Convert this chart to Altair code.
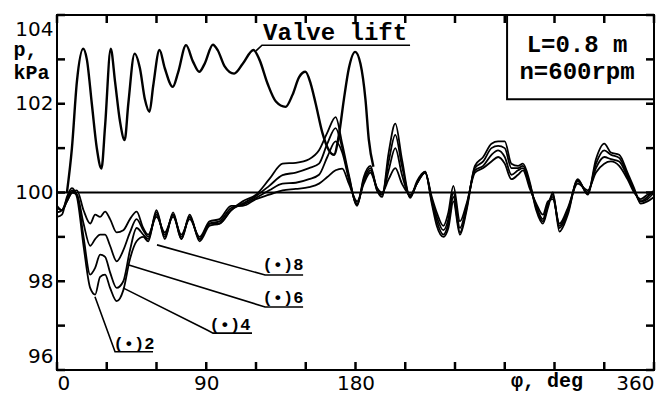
import altair as alt
import pandas as pd

# ---------------- data ----------------
PHI = [0, 3, 6, 9, 12, 16, 20, 23, 26, 29, 32, 36, 40, 44, 48, 52, 55, 60, 65, 70,
       75, 80, 86, 92, 98, 105, 112, 120, 128, 136, 144, 152, 158, 163, 168, 172, 176,
       181, 185, 189, 193, 196, 200, 204, 208, 213, 217, 222, 226, 229, 233, 236, 239,
       243, 247, 252, 257, 262, 266, 270, 274, 278, 281, 285, 289, 293, 296, 299, 303,
       308, 314, 320, 325, 330, 334, 339, 344, 348, 352, 356, 360]

P8 = [99.70, 99.60, 99.80, 100.00, 100.05,
      99.60, 99.30, 99.50, 99.45, 99.57,
      99.40, 99.10, 99.15, 99.40, 99.57,
      99.20, 99.05, 99.45, 99.10, 99.45,
      99.05, 99.40, 99.00, 99.35, 99.40,
      99.70, 99.70, 99.85, 99.95, 100.05,
      100.08, 100.12, 100.20, 100.35, 100.50,
      100.54, 100.20, 99.80, 100.20, 100.45,
      100.10, 100.00, 100.30, 100.55, 100.20,
      99.95, 100.20, 100.45, 99.90, 99.55,
      99.25, 99.55, 100.15, 99.35, 99.75,
      100.45, 100.55, 100.70, 100.80, 100.65,
      100.30, 100.40, 100.50, 100.10, 99.75,
      99.50, 99.80, 99.85, 99.30, 99.65,
      100.20, 100.05, 100.45, 100.65, 100.70,
      100.60, 100.30, 100.00, 99.85, 99.95,
      100.00]

P6 = [99.65, 99.60, 99.80, 100.00, 99.95,
      99.30, 98.80, 98.95, 99.05, 99.05,
      98.80, 98.45, 98.70, 99.10, 99.40,
      99.15, 99.00, 99.50, 99.05, 99.50,
      99.00, 99.45, 98.95, 99.30, 99.35,
      99.65, 99.72, 99.88, 100.05, 100.20,
      100.22, 100.30, 100.40, 100.80, 101.15,
      100.90, 100.30, 99.75, 100.25, 100.50,
      100.10, 99.95, 100.50, 101.00, 100.40,
      99.92, 100.20, 100.45, 99.85, 99.45,
      99.15, 99.40, 100.00, 99.20, 99.70,
      100.50, 100.60, 100.85, 100.95, 100.80,
      100.40, 100.50, 100.55, 100.15, 99.70,
      99.40, 99.75, 99.90, 99.25, 99.60,
      100.25, 100.00, 100.55, 100.80, 100.75,
      100.70, 100.35, 100.05, 99.80, 99.90,
      100.05]

P4 = [99.55, 99.60, 99.85, 100.05, 99.95,
      99.00, 98.15, 98.30, 98.60, 98.55,
      98.20, 97.85, 98.00, 98.70, 99.20,
      99.05, 98.95, 99.55, 99.00, 99.50,
      98.95, 99.45, 98.95, 99.30, 99.30,
      99.60, 99.75, 99.92, 100.15, 100.39,
      100.45, 100.55, 100.65, 101.10, 101.45,
      101.00, 100.35, 99.72, 100.30, 100.55,
      100.05, 99.95, 100.70, 101.30, 100.60,
      99.90, 100.20, 100.47, 99.80, 99.35,
      99.05, 99.30, 99.90, 99.10, 99.65,
      100.55, 100.70, 101.00, 101.05, 101.00,
      100.55, 100.55, 100.60, 100.20, 99.65,
      99.35, 99.70, 99.95, 99.20, 99.55,
      100.28, 99.98, 100.65, 100.95, 100.85,
      100.78, 100.40, 100.05, 99.80, 99.85,
      100.00]

P2 = [99.45, 99.50, 99.90, 100.10, 99.90,
      98.80, 97.85, 97.70, 98.10, 98.15,
      97.85, 97.55, 97.80, 98.50, 98.90,
      99.00, 98.90, 99.60, 98.95, 99.55,
      98.95, 99.50, 98.90, 99.25, 99.30,
      99.60, 99.80, 99.95, 100.30, 100.65,
      100.67, 100.75, 100.95, 101.35, 101.70,
      101.10, 100.40, 99.70, 100.35, 100.60,
      100.05, 99.90, 100.90, 101.55, 100.75,
      99.88, 100.25, 100.47, 99.75, 99.25,
      99.00, 99.20, 99.80, 99.05, 99.60,
      100.60, 100.80, 101.10, 101.15, 101.15,
      100.65, 100.60, 100.65, 100.25, 99.60,
      99.30, 99.65, 100.00, 99.12, 99.50,
      100.30, 99.95, 100.75, 101.10, 100.90,
      100.85, 100.45, 100.10, 99.75, 99.80,
      99.90]

VALVE_PHI = [6, 9, 12, 15.8, 18, 21, 24, 26.8, 29, 32.4, 35, 38, 40.8, 43, 46.8, 50, 53,
             55.8, 58, 61.8, 65, 69.8, 73, 77.8, 82, 85.8, 89, 94, 97, 101, 106.8, 112,
             118.5, 122, 127, 132, 137.8, 142, 146, 149.8, 153, 156, 160, 164, 167, 170,
             173, 176, 179.8, 183, 186, 188, 190.8]
VALVE_P = [100.0, 101.0, 102.5, 103.24, 103.0, 102.0, 101.0, 100.54, 101.5, 103.24,
           102.5, 101.6, 101.18, 102.0, 103.13, 102.8, 102.1, 101.82, 102.4, 103.21,
           102.8, 102.38, 102.7, 103.32, 102.95, 102.72, 102.9, 103.33, 103.2, 102.85,
           102.68, 102.9, 103.21, 103.0, 102.45, 102.05, 101.93, 102.2, 102.6, 102.72,
           102.45, 102.0, 101.35, 100.95, 100.85, 101.3, 102.1, 102.8, 103.17, 102.9,
           102.1, 101.2, 100.58]

CURVE_NAMES = ["8", "6", "4", "2"]

X_TICKS = list(range(0, 361, 30))
Y_TICKS = [96, 97, 98, 99, 100, 101, 102, 103, 104]
X_LABELS = [0, 90, 180, 360]
Y_LABELS = [96, 98, 100, 102, 104]

# label texts and their leader lines (data coordinates)
LABEL_TEXT = ["(•)8", "(•)6", "(•)4", "(•)2"]
LABEL_PHI = [136.3, 136.3, 104.3, 46.4]
LABEL_P = [98.37, 97.62, 97.01, 96.59]
LEADER_ID = ["8", "8", "8", "6", "6", "6", "4", "4", "4", "4", "2", "2", "2", "v", "v", "v"]
LEADER_PHI = [60.3, 125.5, 148.4, 42.8, 125.5, 148.4, 39.8, 90.5, 94.1, 117.6,
              22.9, 35.0, 57.9, 120.0, 123.6, 212.9]
LEADER_P = [98.82, 98.14, 98.14, 98.37, 97.42, 97.42, 97.85, 96.90, 96.83, 96.83,
            97.65, 96.41, 96.41, 103.19, 103.32, 103.32]

VALVE_TEXT = "Valve lift"
BOX_LINES = ["L=0.8 m", "n=600rpm"]
XLABEL_TEXT = "φ, deg"

# ---------------- chart ----------------
W, H = 597, 355
X_MIN, X_MAX, Y_MIN, Y_MAX = 0, 360, 96, 104
TICK_PX = 8
TICK_DX = TICK_PX * (X_MAX - X_MIN) / W
TICK_DY = TICK_PX * (Y_MAX - Y_MIN) / H
MONO = "Liberation Mono"
SANS = "DejaVu Sans"

xs = alt.Scale(domain=[X_MIN, X_MAX], nice=False, zero=False)
ys = alt.Scale(domain=[Y_MIN, Y_MAX], nice=False, zero=False)

X = alt.X("phi:Q", scale=xs, axis=alt.Axis(
    values=X_LABELS, ticks=False, domain=False, grid=False, labelFlush=True,
    labelFontSize=20, labelFont=SANS, labelColor="black", labelPadding=3, title=None))
Y = alt.Y("p:Q", scale=ys, axis=alt.Axis(
    values=Y_LABELS, ticks=False, domain=False, grid=False, labelFlush=True,
    labelFlushOffset=-4, labelFontSize=20, labelFont=SANS, labelColor="black",
    labelPadding=4, title=["p,", "kPa"], titleAngle=0, titleAlign="left",
    titleBaseline="alphabetic", titleX=-44, titleY=40, titleFont=MONO,
    titleFontSize=20, titleFontWeight="bold", titleColor="black", titleLineHeight=23))

rows = []
for name, vals in zip(CURVE_NAMES, [P8, P6, P4, P2]):
    for ph, pv in zip(PHI, vals):
        rows.append({"phi": ph, "p": pv, "curve": name})
df_cluster = pd.DataFrame(rows)
df_valve = pd.DataFrame({"phi": VALVE_PHI, "p": VALVE_P})

# inward ticks on all four sides, placed through the scales
xt_rows = []
for v in X_TICKS:
    xt_rows.append({"phi": v, "p": Y_MIN, "p2": Y_MIN + TICK_DY})
    xt_rows.append({"phi": v, "p": Y_MAX, "p2": Y_MAX - TICK_DY})
yt_rows = []
for v in Y_TICKS:
    yt_rows.append({"p": v, "phi": X_MIN, "phi2": X_MIN + TICK_DX})
    yt_rows.append({"p": v, "phi": X_MAX, "phi2": X_MAX - TICK_DX})
xticks = alt.Chart(pd.DataFrame(xt_rows)).mark_rule(color="black", strokeWidth=2.5).encode(
    x=X, y=Y, y2="p2:Q")
yticks = alt.Chart(pd.DataFrame(yt_rows)).mark_rule(color="black", strokeWidth=2.5).encode(
    y=Y, x=X, x2="phi2:Q")

zero = alt.Chart(pd.DataFrame({"phi": [X_MIN, X_MAX], "p": [100, 100]})).mark_line(
    color="black", strokeWidth=2).encode(x=X, y=Y)

cluster = alt.Chart(df_cluster).mark_line(color="black", strokeWidth=1.8, interpolate="monotone").encode(
    x=X, y=Y, detail="curve:N")
valve = alt.Chart(df_valve).mark_line(color="black", strokeWidth=2.4, interpolate="monotone").encode(
    x=X, y=Y)

df_box = pd.DataFrame({"phi": [271.4], "phi2": [360], "p": [104], "p2": [102.1]})
box = alt.Chart(df_box).mark_rect(fillOpacity=0, stroke="black", strokeWidth=2).encode(
    x=X, x2="phi2:Q", y=Y, y2="p2:Q")

df_boxtext = pd.DataFrame({"phi": [313.6, 313.6], "p": [103.32, 102.72], "t": BOX_LINES})
boxtext = alt.Chart(df_boxtext).mark_text(font=MONO, fontSize=24, fontWeight="bold",
                                          color="black", align="center", baseline="middle").encode(
    x=X, y=Y, text="t:N")

df_vt = pd.DataFrame({"phi": [167.7], "p": [103.6], "t": [VALVE_TEXT]})
vtext = alt.Chart(df_vt).mark_text(font=MONO, fontSize=24, fontWeight="bold",
                                   color="black", align="center", baseline="middle").encode(
    x=X, y=Y, text="t:N")

df_lab = pd.DataFrame({"phi": LABEL_PHI, "p": LABEL_P, "t": LABEL_TEXT})
labs = alt.Chart(df_lab).mark_text(font=MONO, fontSize=17, fontWeight="bold",
                                   color="black", align="center", baseline="middle").encode(
    x=X, y=Y, text="t:N")

df_lead = pd.DataFrame({"phi": LEADER_PHI, "p": LEADER_P, "id": LEADER_ID,
                        "o": list(range(len(LEADER_ID)))})
leads = alt.Chart(df_lead).mark_line(color="black", strokeWidth=1.6).encode(
    x=X, y=Y, detail="id:N", order="o:Q")

df_xl = pd.DataFrame({"phi": [295.5], "t": [XLABEL_TEXT]})
xlab = alt.Chart(df_xl).mark_text(font=MONO, fontSize=20, fontWeight="bold",
                                  color="black", align="center", baseline="middle").encode(
    x=X, y=alt.value(H + 11), text="t:N")

chart = alt.layer(
    xticks, yticks, zero, cluster, valve, leads, box, boxtext, vtext, labs, xlab
).properties(
    width=W, height=H,
    padding={"left": 57, "top": 15, "right": 2, "bottom": 27},
    autosize=alt.AutoSizeParams(type="none"),
    background="white",
).configure_view(stroke="black", strokeWidth=2)

chart.save("out.html", embed_options={"renderer": "svg", "actions": False})
